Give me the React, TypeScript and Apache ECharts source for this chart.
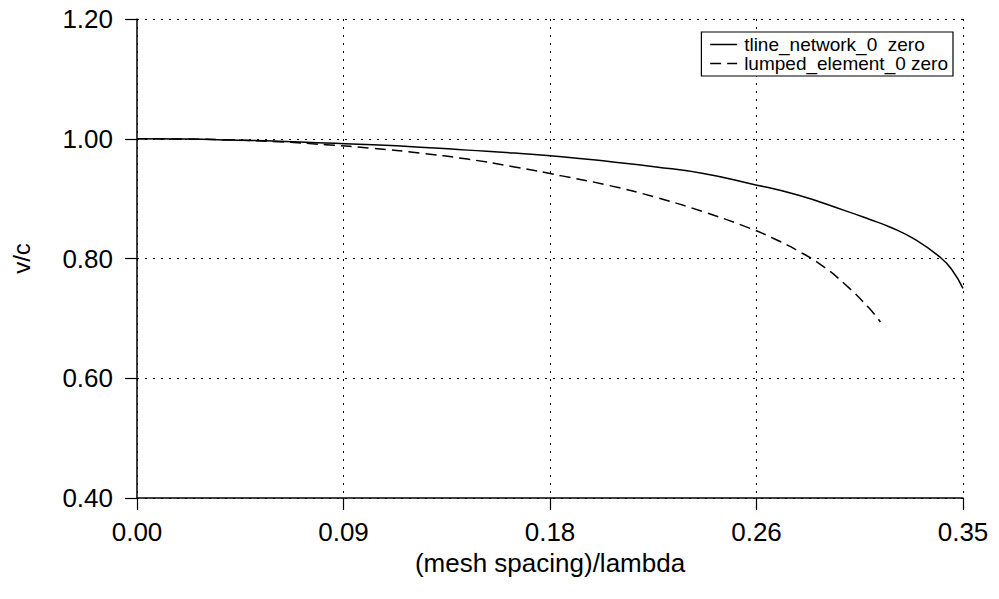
import React, { useEffect, useRef } from "react";
import * as echarts from "echarts";

const seriesNames = ["tline_network_0  zero", "lumped_element_0 zero"];

const tlineX = [0, 0.02, 0.04, 0.06, 0.08, 0.1, 0.12, 0.14, 0.16, 0.18, 0.2, 0.22, 0.24, 0.26, 0.28, 0.3, 0.31, 0.32, 0.33, 0.34, 0.345, 0.35];
const tlineY = [1.0, 0.9995, 0.998, 0.996, 0.993, 0.99, 0.986, 0.981, 0.976, 0.97, 0.962, 0.953, 0.942, 0.925, 0.906, 0.88, 0.866, 0.851, 0.831, 0.803, 0.783, 0.75];

const lumpedX = [0, 0.02, 0.04, 0.06, 0.08, 0.1, 0.12, 0.14, 0.16, 0.18, 0.2, 0.22, 0.24, 0.26, 0.27, 0.28, 0.29, 0.3, 0.31, 0.315];
const lumpedY = [1.0, 0.9995, 0.998, 0.995, 0.99, 0.984, 0.976, 0.966, 0.953, 0.938, 0.922, 0.902, 0.878, 0.85, 0.833, 0.813, 0.789, 0.757, 0.718, 0.694];

const xTickLabels = ["0.00", "0.09", "0.18", "0.26", "0.35"];
const yTickLabels = ["0.40", "0.60", "0.80", "1.00", "1.20"];

const FONT = "'Liberation Sans', Arial, Helvetica, sans-serif";

export default function App() {
  const ref = useRef<HTMLDivElement>(null);

  useEffect(() => {
    if (!ref.current) return;
    const chart = echarts.init(ref.current, undefined, { renderer: "svg" });
    const gridLine = { show: true, lineStyle: { color: "#000", width: 1, type: [2, 6] as any } };
    const option: any = {
      animation: false,
      backgroundColor: "#fff",
      textStyle: { fontFamily: FONT, color: "#000" },
      grid: { left: 137, right: 36, top: 19, bottom: 101, containLabel: false },
      legend: {
        show: true,
        orient: "vertical",
        right: 46,
        top: 32,
        padding: [3, 5, 3, 8],
        itemGap: 0,
        itemWidth: 27,
        itemHeight: 10,
        borderColor: "#000",
        borderWidth: 1.2,
        borderRadius: 0,
        backgroundColor: "#fff",
        itemStyle: { opacity: 0, borderWidth: 0 },
        lineStyle: { width: 1.5, color: "#000" },
        textStyle: { fontFamily: FONT, fontSize: 19, color: "#000", lineHeight: 17, padding: [0, 0, 0, 2] },
        data: seriesNames,
      },
      xAxis: {
        type: "value",
        min: 0,
        max: 0.35,
        interval: 0.0875,
        name: "(mesh spacing)/lambda",
        nameLocation: "middle",
        nameGap: 51,
        nameTextStyle: { fontFamily: FONT, fontSize: 26, color: "#000" },
        axisLine: { show: true, onZero: false, lineStyle: { color: "#000", width: 1.5 } },
        axisTick: { show: true, inside: false, length: 12, lineStyle: { color: "#000", width: 1.2 } },
        axisLabel: {
          show: true,
          margin: 21,
          fontFamily: FONT,
          fontSize: 26,
          color: "#000",
          formatter: (_v: number, i: number) => xTickLabels[i],
        },
        splitLine: gridLine,
      },
      yAxis: {
        type: "value",
        min: 0.4,
        max: 1.2,
        interval: 0.2,
        name: "v/c",
        nameLocation: "middle",
        nameGap: 104,
        nameTextStyle: { fontFamily: FONT, fontSize: 24, color: "#000" },
        axisLine: { show: true, onZero: false, lineStyle: { color: "#000", width: 1.5 } },
        axisTick: { show: true, inside: false, length: 12, lineStyle: { color: "#000", width: 1.2 } },
        axisLabel: {
          show: true,
          margin: 24,
          fontFamily: FONT,
          fontSize: 26,
          color: "#000",
          formatter: (_v: number, i: number) => yTickLabels[i],
        },
        splitLine: gridLine,
      },
      series: [
        {
          name: seriesNames[0],
          type: "line",
          showSymbol: false,
          symbol: "none",
          smooth: true,
          data: tlineX.map((x, i) => [x, tlineY[i]]),
          lineStyle: { color: "#000", width: 1.5, type: "solid" },
          itemStyle: { color: "#000" },
        },
        {
          name: seriesNames[1],
          type: "line",
          showSymbol: false,
          symbol: "none",
          smooth: true,
          data: lumpedX.map((x, i) => [x, lumpedY[i]]),
          lineStyle: { color: "#000", width: 1.5, type: [11, 6] },
          itemStyle: { color: "#000" },
        },
      ],
    };
    chart.setOption(option);
    return () => chart.dispose();
  }, []);

  return (
    <div
      ref={ref}
      style={{ position: "absolute", left: 0, top: 0, width: 999, height: 599 }}
    />
  );
}
